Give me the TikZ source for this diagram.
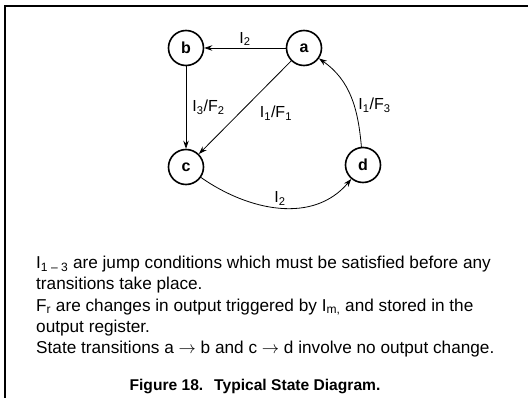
\documentclass[tikz,border=0pt]{standalone}
\usepackage{fontspec}
\setmainfont{Liberation Sans}
\usetikzlibrary{arrows.meta, positioning}

\begin{document}
\begin{tikzpicture}[
    x=1pt, y=-1pt,
    state/.style={circle, draw, line width=1.6pt, minimum size=35pt, inner sep=0pt, font=\fontsize{16}{16}\selectfont\bfseries},
    arr/.style={-{Stealth[length=8pt, width=5.5pt]}, line width=0.8pt},
    lbl/.style={font=\fontsize{16}{16}\selectfont, inner sep=2pt},
  ]
  \useasboundingbox (0,0) rectangle (528,398);
  % frame (left and top edge only)
  \draw[line width=2.4pt] (5,398) -- (5,6) -- (528,6);

  % states
  \node[state] (b) at (186,48) {b};
  \node[state] (a) at (304,48) {a};
  \node[state] (c) at (186,167) {c};
  \node[state] (d) at (363,165) {d};

  % transitions
  \draw[arr] (a) -- node[lbl, above] {I\textsubscript{2}} (b);
  \draw[arr] (b) -- node[lbl, right=4pt] {I\textsubscript{3}/F\textsubscript{2}} (c);
  \draw[arr] (a) -- node[lbl, pos=0.56, right=18pt] {I\textsubscript{1}/F\textsubscript{1}} (c);
  \draw[arr] (c) to[out=-35, in=230] node[lbl, above] {I\textsubscript{2}} (d);
  \draw[arr] (d) to[out=95, in=-35] node[lbl, pos=0.4, right=2pt] {I\textsubscript{1}/F\textsubscript{3}} (a);

  % notes and caption
  \node[anchor=north west, inner sep=0pt, align=left, font=\fontsize{17.2}{21.3}\selectfont] (notes) at (36,256)
    {I\textsubscript{1 -- 3} are jump conditions which must be satisfied before any\\
     transitions take place.\\
     F\textsubscript{r} are changes in output triggered by I\textsubscript{m,} and stored in the\\
     output register.\\
     State transitions a $\rightarrow$ b and c $\rightarrow$ d involve no output change.};
  \node[anchor=base, font=\fontsize{15.6}{15.6}\selectfont\bfseries] (caption) at (255,390)
    {Figure 18.\hspace{0.7em}Typical State Diagram.};
\end{tikzpicture}
\end{document}
